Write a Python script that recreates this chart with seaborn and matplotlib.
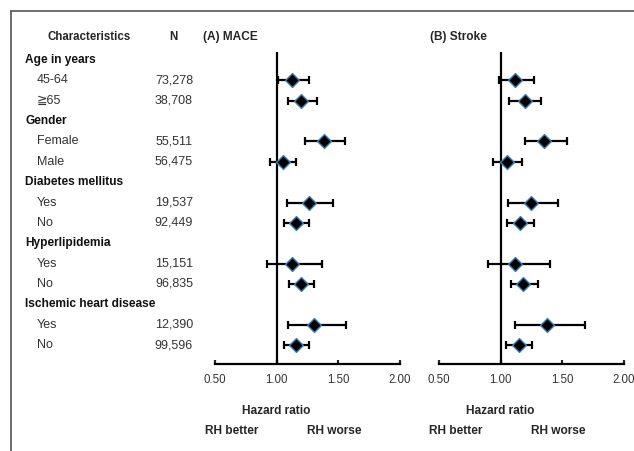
import numpy as np
import pandas as pd
import matplotlib
matplotlib.use("Agg")
import matplotlib.pyplot as plt
from matplotlib.lines import Line2D
import seaborn as sns

# table rows (header rows have no N)
labels = ["Age in years", "45-64", "\u226765", "Gender", "Female", "Male",
          "Diabetes mellitus", "Yes", "No", "Hyperlipidemia", "Yes", "No",
          "Ischemic heart disease", "Yes", "No"]
is_header = [True, False, False, True, False, False, True, False, False,
             True, False, False, True, False, False]
n_values = ["", "73,278", "38,708", "", "55,511", "56,475", "", "19,537",
            "92,449", "", "15,151", "96,835", "", "12,390", "99,596"]

# rows that carry an estimate
est_rows = [1, 2, 4, 5, 7, 8, 10, 11, 13, 14]

# (A) MACE
mace_hr = [1.125, 1.20, 1.385, 1.05, 1.26, 1.157, 1.125, 1.195, 1.305, 1.16]
mace_lo = [1.01, 1.09, 1.23, 0.945, 1.085, 1.06, 0.92, 1.10, 1.09, 1.06]
mace_hi = [1.26, 1.33, 1.55, 1.16, 1.46, 1.265, 1.37, 1.30, 1.56, 1.26]

# (B) Stroke
stroke_hr = [1.116, 1.20, 1.355, 1.05, 1.245, 1.155, 1.12, 1.185, 1.375, 1.145]
stroke_lo = [0.99, 1.07, 1.20, 0.94, 1.06, 1.05, 0.90, 1.085, 1.12, 1.045]
stroke_hi = [1.27, 1.33, 1.535, 1.175, 1.465, 1.27, 1.40, 1.30, 1.68, 1.25]

xticks = [0.50, 1.00, 1.50, 2.00]
panel_titles = ["(A) MACE", "(B) Stroke"]

sns.set_style("white")
plt.rcParams["font.family"] = ["Liberation Sans", "DejaVu Sans"]

W, H = 634, 451
fig = plt.figure(figsize=(W / 100, H / 100), dpi=100)

# row geometry in pixels
row0, step = 60.0, 20.36
ytop, ybot = 52.0, 364.0
ylim = ((ybot - row0) / step, (ytop - row0) / step)
px_per_unit = 123.3


def px_axes(x0, x1):
    return fig.add_axes([x0 / W, 1 - ybot / H, (x1 - x0) / W, (ybot - ytop) / H])


def row_of(ypx):
    return (ypx - row0) / step


# left table
tab = px_axes(0, 215)
tab.set_xlim(0, 215)
tab.set_ylim(*ylim)
tab.axis("off")
tab.text(89, row_of(37), "Characteristics", ha="center", va="center",
         fontsize=8.3, fontweight="bold", clip_on=False)
tab.text(173, row_of(37), "N", ha="center", va="center",
         fontsize=8.3, fontweight="bold", clip_on=False)
for i, (lab, hdr, n) in enumerate(zip(labels, is_header, n_values)):
    if hdr:
        tab.text(25, i, lab, ha="left", va="center", fontsize=8.6,
                 fontweight="bold", color="#111111")
    else:
        tab.text(37, i, lab, ha="left", va="center", fontsize=9, color="#333333")
        tab.text(193, i, n, ha="right", va="center", fontsize=9, color="#333333")

panels = [(215, 400, mace_hr, mace_lo, mace_hi, 203),
          (439, 624, stroke_hr, stroke_lo, stroke_hi, 430)]

for (x0, x1, hr, lo, hi, title_x), title in zip(panels, panel_titles):
    ax = px_axes(x0, x1)
    df = pd.DataFrame({"row": est_rows, "hr": hr, "lo": lo, "hi": hi})
    ax.errorbar(df["hr"], df["row"],
                xerr=[df["hr"] - df["lo"], df["hi"] - df["hr"]],
                fmt="none", ecolor="black", elinewidth=1.6, capsize=3.2,
                capthick=1.6, zorder=2)
    sns.scatterplot(data=df, x="hr", y="row", marker="D", s=50, color="black",
                    edgecolor="#3b7fb5", linewidth=1.0, zorder=3, ax=ax,
                    legend=False)
    ax.axvline(1.0, color="black", lw=1.6, zorder=1)
    ax.set_xlim(0.5, 2.0)
    ax.set_ylim(*ylim)
    ax.set_xticks(xticks)
    ax.set_xticklabels([f"{t:.2f}" for t in xticks], fontsize=8.3, color="#333333")
    ax.set_yticks([])
    ax.set_xlabel("")
    ax.set_ylabel("")
    for s in ["top", "left", "right"]:
        ax.spines[s].set_visible(False)
    ax.spines["bottom"].set_linewidth(1.6)
    ax.spines["bottom"].set_color("black")
    ax.tick_params(axis="x", direction="in", length=3, width=1.6, pad=7,
                   bottom=True)
    # title and footer labels
    ax.text(0.5 + (title_x - x0) / px_per_unit, row_of(37), title, ha="left",
            va="center", fontsize=8.6, fontweight="bold", clip_on=False)
    ax.text(1.0, row_of(411), "Hazard ratio", ha="center", va="center",
            fontsize=8.6, fontweight="bold", clip_on=False)
    ax.text(0.5 - 10 / px_per_unit, row_of(431), "RH better", ha="left",
            va="center", fontsize=8.6, fontweight="bold", clip_on=False)
    ax.text(1.0 + 30 / px_per_unit, row_of(431), "RH worse", ha="left",
            va="center", fontsize=8.6, fontweight="bold", clip_on=False)

# outer frame lines (top and left)
fig.add_artist(Line2D([11 / W, 11 / W], [0, 1 - 11 / H], color="#555555", lw=1.2))
fig.add_artist(Line2D([11 / W, 1], [1 - 11 / H, 1 - 11 / H], color="#555555", lw=1.2))

fig.savefig("out.png", dpi=100)
